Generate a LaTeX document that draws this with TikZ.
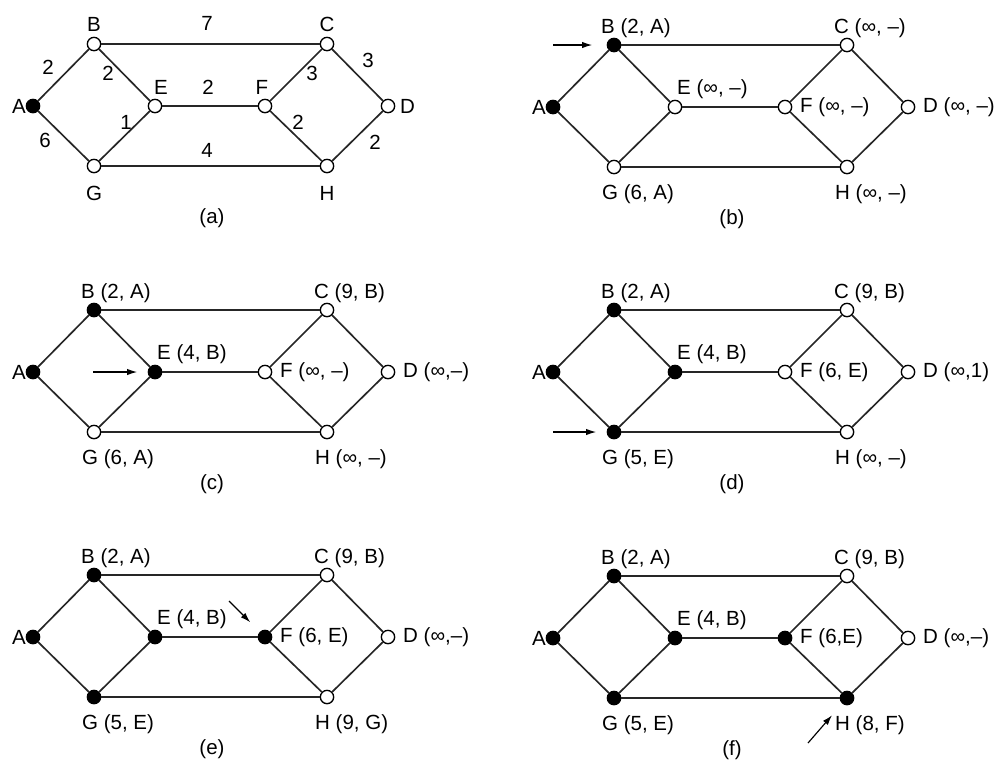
\documentclass[tikz,border=0pt]{standalone}
\usepackage{fontspec}
\setmainfont{Liberation Sans}
\usetikzlibrary{arrows.meta}
\tikzset{
  vertex/.style={circle,draw=black,line width=0.4mm,minimum size=4mm,inner sep=0pt},
  tentative/.style={vertex,fill=white},
  permanent/.style={vertex,fill=black},
  link/.style={line width=0.5mm,black!85},
  pointer/.style={-{Latex[length=3mm,width=1.9mm]},line width=0.35mm,shorten >=#1},
  lab/.style={inner sep=0pt,font=\fontsize{17.5}{20}\selectfont},
  toplab/.style={lab,anchor=west,xshift=-3.9mm,yshift=5.1mm},
  elab/.style={lab,anchor=west,xshift=0.6mm,yshift=5.4mm},
  sidelab/.style={lab,anchor=west,xshift=4.5mm},
  botlab/.style={lab,anchor=west,xshift=-3.6mm,yshift=-8.1mm}
}

\begin{document}
\begin{tikzpicture}[x=0.3mm,y=-0.3mm,>=Latex]
  \useasboundingbox (0,0) rectangle (1005,762);
  % the same network six times; a node turns black once its label is permanent
  \foreach \pn/\ax/\ay/\stage in {a/33/106/0,b/553/107/1,c/33/372/2,d/553/372/3,e/33/637/4,f/553/638/5}{
    \begin{scope}[shift={(\ax,\ay)}]
      \foreach \n/\nx/\ny/\ord in {A/0/0/0,B/61/-62/1,E/122/0/2,G/61/60/3,F/232/0/4,H/294/60/5,C/294/-62/9,D/355/0/9}{
        \ifnum\ord>\stage\relax
          \node[tentative] (\pn-\n) at (\nx,\ny) {};
        \else
          \node[permanent] (\pn-\n) at (\nx,\ny) {};
        \fi
      }
      \foreach \ua/\ub in {A/B,A/G,B/E,G/E,B/C,G/H,E/F,F/C,F/H,C/D,H/D}
        \draw[link] (\pn-\ua) -- (\pn-\ub);
      \node[lab,anchor=east,xshift=-2.1mm] (\pn-At) at (\pn-A) {A};
      \node[lab] (\pn-cap) at (179,112) {(\pn)};
    \end{scope}
  }

  % (a) names and weights
  \node[lab] (a-Bt) at ([yshift=6mm]a-B) {B};
  \node[lab] (a-Ct) at ([yshift=6mm]a-C) {C};
  \node[lab] (a-Gt) at ([yshift=-8.1mm]a-G) {G};
  \node[lab] (a-Ht) at ([yshift=-8.1mm]a-H) {H};
  \node[lab] (a-Et) at ([xshift=1.8mm,yshift=5.7mm]a-E) {E};
  \node[lab] (a-Ft) at ([xshift=-0.9mm,yshift=5.7mm]a-F) {F};
  \node[sidelab,xshift=-0.9mm] (a-Dt) at (a-D) {D};
  \node[lab] (w-bc) at (207,23) {7};
  \node[lab] (w-ab) at (48,67) {2};
  \node[lab] (w-be) at (108,73) {2};
  \node[lab] (w-ef) at (208,87) {2};
  \node[lab] (w-fc) at (312,73) {3};
  \node[lab] (w-cd) at (368,60) {3};
  \node[lab] (w-eg) at (126,122) {1};
  \node[lab] (w-ag) at (45,140) {6};
  \node[lab] (w-gh) at (207,150) {4};
  \node[lab] (w-fh) at (298,122) {2};
  \node[lab] (w-dh) at (375,142) {2};

  % (b)
  \node[toplab] (b-Bt) at (b-B) {B (2, A)};
  \node[toplab] (b-Ct) at (b-C) {C (∞, –)};
  \node[elab] (b-Et) at (b-E) {E (∞, –)};
  \node[sidelab] (b-Ft) at (b-F) {F (∞, –)};
  \node[sidelab] (b-Dt) at (b-D) {D (∞, –)};
  \node[botlab] (b-Gt) at (b-G) {G (6, A)};
  \node[botlab] (b-Ht) at (b-H) {H (∞, –)};
  \coordinate (b-in) at (553,45);
  \draw[pointer=4.35mm] (b-in) -- (b-B);

  % (c)
  \node[toplab] (c-Bt) at (c-B) {B (2, A)};
  \node[toplab] (c-Ct) at (c-C) {C (9, B)};
  \node[elab] (c-Et) at (c-E) {E (4, B)};
  \node[sidelab] (c-Ft) at (c-F) {F (∞, –)};
  \node[sidelab] (c-Dt) at (c-D) {D (∞,–)};
  \node[botlab] (c-Gt) at (c-G) {G (6, A)};
  \node[botlab] (c-Ht) at (c-H) {H (∞, –)};
  \coordinate (c-in) at (93,372);
  \draw[pointer=3.15mm] (c-in) -- (c-E);

  % (d)
  \node[toplab] (d-Bt) at (d-B) {B (2, A)};
  \node[toplab] (d-Ct) at (d-C) {C (9, B)};
  \node[elab] (d-Et) at (d-E) {E (4, B)};
  \node[sidelab] (d-Ft) at (d-F) {F (6, E)};
  \node[sidelab] (d-Dt) at (d-D) {D (∞,1)};
  \node[botlab] (d-Gt) at (d-G) {G (5, E)};
  \node[botlab] (d-Ht) at (d-H) {H (∞, –)};
  \coordinate (d-in) at (553,432);
  \draw[pointer=3.15mm] (d-in) -- (d-G);

  % (e)
  \node[toplab] (e-Bt) at (e-B) {B (2, A)};
  \node[toplab] (e-Ct) at (e-C) {C (9, B)};
  \node[elab] (e-Et) at (e-E) {E (4, B)};
  \node[sidelab] (e-Ft) at (e-F) {F (6, E)};
  \node[sidelab] (e-Dt) at (e-D) {D (∞,–)};
  \node[botlab] (e-Gt) at (e-G) {G (5, E)};
  \node[botlab] (e-Ht) at (e-H) {H (9, G)};
  \coordinate (e-in) at (229,601);
  \draw[pointer=4.05mm] (e-in) -- (e-F);

  % (f)
  \node[toplab] (f-Bt) at (f-B) {B (2, A)};
  \node[toplab] (f-Ct) at (f-C) {C (9, B)};
  \node[elab] (f-Et) at (f-E) {E (4, B)};
  \node[sidelab] (f-Ft) at (f-F) {F (6,E)};
  \node[sidelab] (f-Dt) at (f-D) {D (∞,–)};
  \node[botlab] (f-Gt) at (f-G) {G (5, E)};
  \node[botlab] (f-Ht) at (f-H) {H (8, F)};
  \coordinate (f-in) at (808,743);
  \draw[pointer=4.65mm] (f-in) -- (f-H);
\end{tikzpicture}
\end{document}
